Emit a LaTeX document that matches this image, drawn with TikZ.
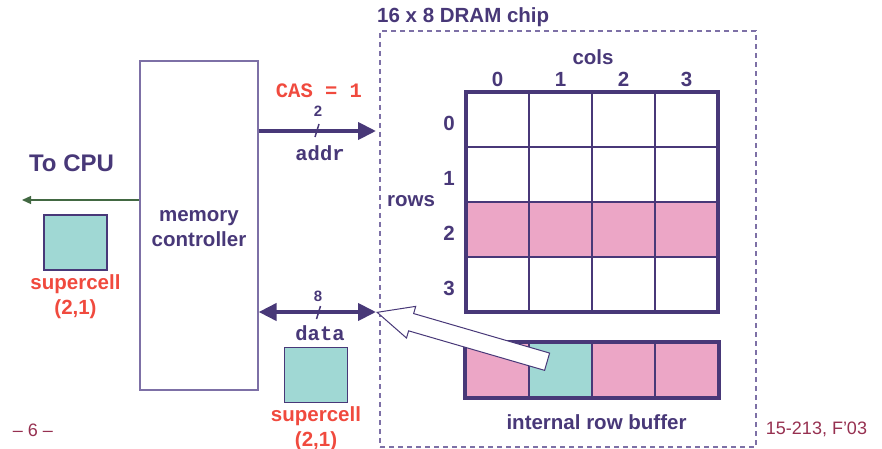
\documentclass[tikz,border=0pt]{standalone}
\usepackage{fontspec}
\setmainfont{Liberation Sans}
\setmonofont{Liberation Mono}
\usetikzlibrary{arrows.meta,shapes.arrows,calc}

\definecolor{ink}{RGB}{72,56,120}
\definecolor{frame}{RGB}{125,112,166}
\definecolor{rowpink}{RGB}{236,166,198}
\definecolor{cellteal}{RGB}{160,216,212}
\definecolor{alert}{RGB}{240,74,62}
\definecolor{footer}{RGB}{150,48,80}
\definecolor{cpugreen}{RGB}{66,104,66}

\begin{document}
\begin{tikzpicture}[x=1pt,y=-1pt,
		lbl/.style={text=ink,inner sep=0,font=\bfseries\fontsize{20.5}{25}\selectfont},
		redlbl/.style={text=alert,inner sep=0,align=center,font=\bfseries\fontsize{20.5}{25}\selectfont},
		code/.style={inner sep=0,font=\ttfamily\bfseries\fontsize{20.5}{24}\selectfont},
		buswidth/.style={text=ink,inner sep=0,font=\bfseries\fontsize{15}{16}\selectfont},
		foot/.style={text=footer,inner sep=0,font=\fontsize{18}{20}\selectfont},
		cell/.style={draw=ink,line width=1.2,minimum width=63,minimum height=55,inner sep=0},
		bus/.style={draw=ink,line width=4},
		bustip/.tip={Triangle[length=18pt,width=17pt]},
		slash/.style={draw=ink,line width=1.5},
		bigarrow/.style={single arrow,draw=ink,fill=white,line width=1,
			minimum height=177,inner xsep=0,inner ysep=8.5,
			single arrow head extend=7.5,single arrow tip angle=50}]

		\useasboundingbox (0,0) rectangle (882,449);

		\node[draw=frame,line width=1.2,minimum width=118,minimum height=329] (mc) at (199,225.5) {};
		\node[lbl,align=center] (mctxt) at (199,228.5) {memory\\controller};
		\node[draw=frame,dashed,dash pattern=on 5pt off 4pt,line width=1.2,
			minimum width=376,minimum height=416,inner sep=0] (chip) at (568,239) {};
		\node[lbl,anchor=west] (title) at (377,17) {16 x 8 DRAM chip};

		\node[lbl,font=\bfseries\fontsize{24}{26}\selectfont] (cpu) at (71.5,163) {To CPU};
		\coordinate (cpuEnd) at (22,200);
		\draw[cpugreen,line width=1.3,-{Triangle[length=9pt,width=8pt]}] (mc.west |- cpuEnd) -- (cpuEnd);

		\node[cell,fill=cellteal] (sc1) at (75.5,242.5) {};
		\node[redlbl,anchor=north] (sc1txt) at ($(sc1.south)+(0,4)$) {supercell\\(2,1)};

		\coordinate (addrEnd) at (376,131);
		\draw[bus,-bustip] (mc.east |- addrEnd) -- (addrEnd);
		\draw[slash] (315,137) -- (319,124);
		\node[buswidth] (w2) at (318,111.5) {2};
		\node[code,text=alert] (cas) at (319,90.5) {CAS = 1};
		\node[code,text=ink] (addr) at (320,153) {addr};

		\coordinate (dataEnd) at (376,312);
		\draw[bus,bustip-bustip] (mc.east |- dataEnd) -- (dataEnd);
		\draw[slash] (316.5,319) -- (320.5,306);
		\node[buswidth] (w8) at (318,296) {8};
		\node[code,text=ink] (data) at (320,333) {data};

		\node[cell,fill=cellteal] (sc2) at (316,375) {};
		\node[redlbl,anchor=north] (sc2txt) at ($(sc2.south)+(0,3)$) {supercell\\(2,1)};

		\fill[rowpink] (466,202) rectangle (718,257);
		\draw[ink,line width=1.2] (529,92) -- (529,312) (592,92) -- (592,312) (655,92) -- (655,312)
			(466,147) -- (718,147) (466,202) -- (718,202) (466,257) -- (718,257);
		\draw[ink,line width=4] (466,92) rectangle (718,312);

		\node[lbl] (cols) at (593,57) {cols};
		\node[lbl] (c0) at (497.5,79) {0};
		\node[lbl] (c1) at (560.5,79) {1};
		\node[lbl] (c2) at (623.5,79) {2};
		\node[lbl] (c3) at (686.5,79) {3};
		\node[lbl] (rows) at (411,201.5) {rows};
		\node[lbl] (r0) at (449,123) {0};
		\node[lbl] (r1) at (449,178.5) {1};
		\node[lbl] (r2) at (449,233.5) {2};
		\node[lbl] (r3) at (449,288.5) {3};

		\node[cell,fill=rowpink] (b0) at (497.5,370) {};
		\node[cell,fill=cellteal] (b1) at (560.5,370) {};
		\node[cell,fill=rowpink] (b2) at (623.5,370) {};
		\node[cell,fill=rowpink] (b3) at (686.5,370) {};
		\draw[ink,line width=4] (b0.north west) rectangle (b3.south east);
		\node[lbl] (buf) at (596.5,422) {internal row buffer};

		\node[bigarrow,anchor=tip,rotate=163.8] (read) at (dataEnd) {};

		\node[foot] (page) at (33,430.5) {– 6 –};
		\node[foot] (course) at (816.5,429) {15-213, F'03};

\end{tikzpicture}
\end{document}
